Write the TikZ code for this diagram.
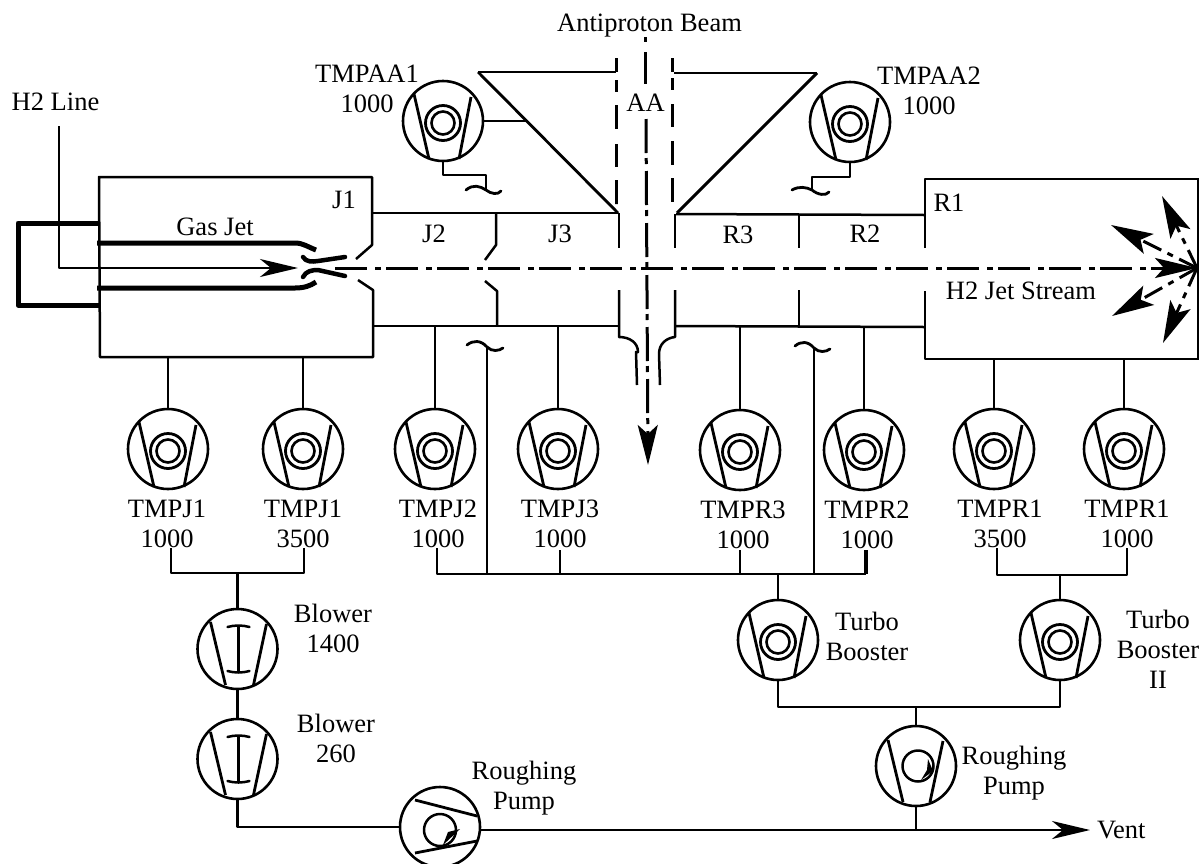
\documentclass[tikz,border=0pt]{standalone}
\usepackage{fontspec}
\setmainfont{Liberation Serif}
\usetikzlibrary{arrows.meta}
\tikzset{
  pipe/.style={line width=2.5pt,line join=round},
  thickpipe/.style={line width=5pt,line join=round},
  pumpc/.style={circle,draw,line width=2.6pt,minimum size=80pt,inner sep=0pt,outer sep=0pt},
  lab/.style={inner sep=0pt,outer sep=0pt,align=center,font=\fontsize{26.5}{30}\selectfont},
  beam/.style={line width=3pt,dash pattern=on 32pt off 8pt on 6pt off 5pt},
  ray/.style={line width=3pt,dash pattern=on 20pt off 7pt on 6pt off 7pt,
     -{Stealth[length=42pt,width=22pt,inset=9pt]}},
  arr/.style={-{Stealth[length=38pt,width=18pt,inset=11pt]}},
  tilde/.style={line width=2.8pt,line cap=round},
}
\newcommand{\pumpT}[3]{%
  \node[pumpc] (#1) at (#2,#3) {};
  \begin{scope}[shift={(#2,#3)}]
    \draw[pipe,line width=2.8pt] (-29,-27) -- (-14,38);
    \draw[pipe,line width=2.8pt] (28,-24) -- (16,38);
    \draw[line width=2.8pt] (0,2) circle (17.5);
    \draw[line width=2.6pt] (0,2) circle (11.5);
  \end{scope}}
\newcommand{\pumpB}[3]{%
  \node[pumpc] (#1) at (#2,#3) {};
  \begin{scope}[shift={(#2,#3)}]
    \draw[pipe,line width=2.8pt] (-27,-27) -- (-12,36);
    \draw[pipe,line width=2.8pt] (29,-25) -- (16,36);
    \draw[pipe] (1,-22) -- (1,22);
    \draw[pipe,line cap=round] (-10,-22) .. controls (-3,-24) and (5,-24) .. (12,-22);
    \draw[pipe,line cap=round] (-10,22) .. controls (-3,24) and (5,24) .. (12,22);
  \end{scope}}
\begin{document}
\begin{tikzpicture}[x=1pt,y=-1pt]
\useasboundingbox (0,0) rectangle (1199,863);
\fill[white] (0,0) rectangle (1199,863);

% named points
\coordinate (h2top) at (59,126);
\coordinate (jettip) at (298,268);
\coordinate (beamL) at (335,268);
\coordinate (hub) at (1197,268);
\coordinate (jtop) at (0,213);
\coordinate (jbot) at (0,326);
\coordinate (j1bot) at (0,357);
\coordinate (r1bot) at (0,359);
\coordinate (busJ) at (0,573);
\coordinate (busM) at (0,574);
\coordinate (busR) at (0,575);
\coordinate (busT) at (0,707);
\coordinate (ventEnd) at (1090,830);

% ---- pumps
\pumpT{pAAa}{443}{121}
\pumpT{pAAb}{850}{122}
\pumpT{pJa}{168}{449}
\pumpT{pJb}{303}{449}
\pumpT{pJc}{435}{449}
\pumpT{pJd}{558}{449}
\pumpT{pRc}{740}{450}
\pumpT{pRb}{864}{450}
\pumpT{pRa}{994}{449}
\pumpT{pRz}{1124}{449}
\pumpT{tbA}{778}{640}
\pumpT{tbB}{1060}{640}
\pumpB{blA}{237.5}{649}
\pumpB{blB}{237.5}{759}

% roughing pump 1
\node[pumpc] (rpA) at (440,827) {};
\draw[pipe,line width=2.8pt] (415,800) -- (477,816);
\draw[pipe,line width=2.8pt] (415,853) -- (477,841);
\draw[pipe] (440,830) circle (16);
\fill (460,829) -- (443,845) -- (448,832) -- cycle;
% roughing pump 2
\node[pumpc] (rpB) at (916,766) {};
\draw[pipe,line width=2.8pt] (888,740) -- (903,802);
\draw[pipe,line width=2.8pt] (943,741) -- (930,802);
\draw[pipe] (918,766) circle (15.5);
\fill (928,759) -- (933,771) -- (921,780) -- (927,770) -- cycle;

% ---- J1 chamber
\draw[pipe] (356,259) -- (372,245) -- (372,177) -- (99,177) -- (100,357) -- (373,357) -- (373,290) -- (358,280);
\draw[thickpipe] (99,223) -- (18,223) -- (18,305) -- (99,305);
\draw[thickpipe] (97,243) -- (295,243) .. controls (303,243) and (308,247) .. (316,250);
\draw[thickpipe] (97,288) -- (295,288) .. controls (304,288) and (310,286) .. (316,282);
\draw[thickpipe,line cap=round,line width=4.5pt] (303,257) .. controls (306,262) and (312,262) .. (318,261) -- (345,257);
\draw[thickpipe,line cap=round,line width=4.5pt] (303,277) .. controls (306,271) and (312,270) .. (318,270) -- (345,276);
\node[lab] (h2l) at (55.5,102) {H2 Line};
\draw[pipe,arr] (h2top) -- (59,268) -- (jettip);

% ---- J2/J3 tube
\draw[pipe] (372,213) -- (618,213);
\draw[pipe] (373,326) -- (619,326);
\draw[pipe] (496,213) -- (496,245) -- (485,260);
\draw[pipe] (485,281) -- (497,291) -- (497,326);
% ---- R tube
\draw[pipe] (676,214) -- (925,215);
\draw[pipe] (675,326) -- (925,327);
\draw[pipe] (799,215) -- (799,248);
\draw[pipe] (799,290) -- (799,327);
% ---- R1 chamber
\draw[pipe] (925,248) -- (925,179) -- (1199,179);
\draw[pipe] (925,291) -- (925,359) -- (1199,359);
\draw[pipe] (1198,179) -- (1198,359);

% ---- central section
\draw[pipe] (478,72) -- (616,72);
\draw[pipe,line width=2.8pt] (478,72) -- (618,213);
\draw[pipe] (817,73) -- (674,73);
\draw[pipe,line width=3pt] (817,73) -- (677,213);
\draw[line width=2.6pt] (616.5,58) -- (616.5,72);
\draw[line width=2.6pt] (672.5,58) -- (672.5,72);
\draw[line width=2.6pt,dash pattern=on 12pt off 13pt on 24pt off 15pt on 23pt off 13pt on 24pt off 0pt] (616.5,80) -- (616.5,204);
\draw[line width=2.6pt,dash pattern=on 12pt off 14pt on 23pt off 14pt on 24pt off 13pt on 24pt off 0pt] (672.5,78) -- (672.5,202);
\draw[pipe] (619,213) -- (619,248);
\draw[pipe] (675,214) -- (675,248);
\draw[pipe] (619,290) -- (619,337) .. controls (630,337) and (638,343) .. (638,352) -- (636,352) -- (637,385);
\draw[pipe] (675,290) -- (675,337) .. controls (666,338) and (659,344) .. (659,354) -- (660,385);

% ---- beams
\draw[beam] (beamL) -- (1156,268);
\draw[line width=3pt,-{Stealth[length=42pt,width=20pt,inset=9pt]}] (1156,268) -- (hub);
\draw[ray] (hub) -- (1111,225);
\draw[ray] (hub) -- (1112,316);
\draw[ray] (hub) -- (1162,196);
\draw[ray] (hub) -- (1163,343);

\node[lab] (aa) at (645.5,103) {AA};
\node[lab] (apb) at (649.5,26) {Antiproton Beam};
\coordinate (vA) at (645,37);
\coordinate (vB) at (645,84);
\coordinate (vC) at (646,119);
\coordinate (vD) at (648,465);
\draw[line width=3pt,dash pattern=on 5pt off 10pt on 32pt off 100pt] (vA) -- (vB);
\draw[line width=3pt,dash pattern=on 34pt off 5pt on 6pt off 7pt,
   -{Stealth[length=40pt,width=20pt,inset=9pt]}] (vC) -- (vD);

% ---- pump connections
\draw[pipe] (pAAa.east) -- (pAAa.east -| 527,0);
\draw[pipe] (pAAb.west) -- (pAAb.west -| 811,0);
\coordinate (tla) at (486,190);
\draw[pipe] (pAAa.south) -- (443,175) -- (486,175) -- (tla);
\draw[tilde] (466,190) .. controls (473,184) and (480,186) .. (tla) .. controls (491,194) and (498,195) .. (501,191);
\coordinate (tlb) at (812,190);
\draw[pipe] (pAAb.south) -- (850,177) -- (812,177) -- (tlb);
\draw[tilde] (792,190) .. controls (799,186) and (806,187) .. (tlb) .. controls (818,195) and (826,196) .. (829,192);

\draw[pipe] (pJa.north) -- (pJa.north |- j1bot);
\draw[pipe] (pJb.north) -- (pJb.north |- j1bot);
\draw[pipe] (pJc.north) -- (pJc.north |- jbot);
\draw[pipe] (pJd.north) -- (pJd.north |- jbot);
\draw[pipe] (pRc.north) -- (pRc.north |- jbot);
\draw[pipe] (pRb.north) -- (pRb.north |- jbot);
\draw[pipe] (pRa.north) -- (pRa.north |- r1bot);
\draw[pipe] (pRz.north) -- (pRz.north |- r1bot);

% bypass lines with tildes
\coordinate (byA) at (487,347);
\coordinate (byB) at (814,348);
\draw[tilde] (467,345) .. controls (473,340) and (481,340) .. (byA) .. controls (492,352) and (499,351) .. (503,348);
\draw[tilde] (795,346) .. controls (801,341) and (808,341) .. (byB) .. controls (819,353) and (826,352) .. (830,349);

% buses
\coordinate (wJa) at (171,548);
\coordinate (wJb) at (304,548);
\coordinate (wMa) at (437,548);
\coordinate (wMb) at (560,550);
\coordinate (wMc) at (740,550);
\coordinate (wMd) at (866,550);
\coordinate (wRa) at (997,548);
\coordinate (wRb) at (1127,548);
\draw[pipe] (wJa) -- (wJa |- busJ) -- (wJb |- busJ) -- (wJb);
\draw[pipe] (blA.north |- busJ) -- (blA.north);
\draw[pipe] (blA.south) -- (blB.north);
\draw[pipe] (blB.south) -- (blB.south |- rpA.west) -- (rpA.west);
\draw[pipe] (wMa) -- (wMa |- busM) -- (wMd |- busM);
\draw[pipe] (wMb) -- (wMb |- busM);
\draw[pipe] (wMc) -- (wMc |- busM);
\draw[thickpipe,line width=3.6pt] (wMd) -- (wMd |- busM);
\draw[pipe] (byA) -- (byA |- busM);
\draw[pipe] (byB) -- (byB |- busM);
\draw[pipe] (tbA.north |- busM) -- (tbA.north);
\draw[pipe] (wRa) -- (wRa |- busR) -- (wRb |- busR) -- (wRb);
\draw[pipe] (tbB.north |- busR) -- (tbB.north);
\draw[pipe] (tbA.south) -- (tbA.south |- busT) -- (tbB.south |- busT) -- (tbB.south);
\draw[pipe] (rpB.north |- busT) -- (rpB.north);
\draw[pipe] (rpB.south) -- (rpB.south |- ventEnd);
\draw[pipe,arr] (rpA.east |- ventEnd) -- (ventEnd);

% ---- labels
\node[lab] at (344,200) {J1};
\node[lab] at (215,227) {Gas Jet};
\node[lab] at (434,234) {J2};
\node[lab] at (560,234) {J3};
\node[lab] at (738,235) {R3};
\node[lab] at (865,234) {R2};
\node[lab] at (949,203) {R1};
\node[lab] at (1021,291) {H2 Jet Stream};
\node[lab] at (367,89) {TMPAA1\\1000};
\node[lab] at (929,91) {TMPAA2\\1000};
\node[lab] at (167,524) {TMPJ1\\1000};
\node[lab] at (303,524) {TMPJ1\\3500};
\node[lab] at (438,524) {TMPJ2\\1000};
\node[lab] at (560,524) {TMPJ3\\1000};
\node[lab] at (743,525) {TMPR3\\1000};
\node[lab] at (867,525) {TMPR2\\1000};
\node[lab] at (1000,524) {TMPR1\\3500};
\node[lab] at (1127,524) {TMPR1\\1000};
\node[lab] at (333,628) {Blower\\1400};
\node[lab] at (336,738) {Blower\\260};
\node[lab] at (524,788) {Roughing\\Pump};
\node[lab] at (867,636) {Turbo\\Booster};
\node[lab] at (1158,649) {Turbo\\Booster\\II};
\node[lab] at (1014,773) {Roughing\\Pump};
\node[lab,anchor=west] at (1097,830) {Vent};
\end{tikzpicture}
\end{document}
